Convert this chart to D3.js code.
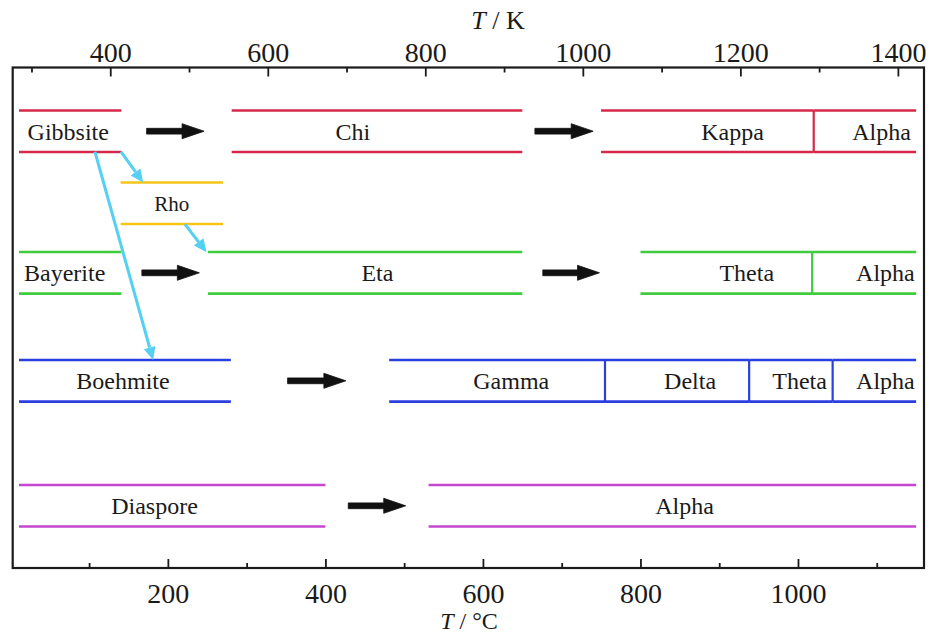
<!DOCTYPE html>
<html>
<head>
<meta charset="utf-8">
<script src="https://cdn.jsdelivr.net/npm/d3@7"></script>
<style>
  body { margin: 0; background: #fff; }
  svg { display: block; }
  svg text { font-family: 'Liberation Serif', 'Times New Roman', 'DejaVu Serif', serif; }
</style>
</head>
<body>
<svg id="chart" width="929" height="635"></svg>
<script>
// ---------- data ----------
const rowNames  = ["Gibbsite", "Rho", "Bayerite", "Boehmite", "Diaspore"];
const rowLevels = [12.73, 27.13, 41.02, 62.6, 87.57];     // vertical position of each row (0-100 scale)
const rowColors = ["#d6284b", "#f5c518", "#3fcc3f", "#2b3fe0", "#c447cf"];

// phase segments: [row, startC, endC, label, labelC]
const phaseRow    = [0, 0, 0, 0, 1, 2, 2, 2, 2, 3, 3, 3, 3, 3, 4, 4];
const phaseStart  = [11, 281, 750, 1020, 140, 11, 251, 800, 1018, 11, 481, 755, 938, 1044, 11, 531];
const phaseEnd    = [141, 650, 1020, 1150, 270, 141, 650, 1018, 1150, 280, 755, 938, 1044, 1150, 400, 1150];
const phaseLabel  = ["Gibbsite", "Chi", "Kappa", "Alpha", "Rho", "Bayerite", "Eta", "Theta", "Alpha",
                     "Boehmite", "Gamma", "Delta", "Theta", "Alpha", "Diaspore", "Alpha"];
const phaseLabelC = [73.5, 435, 917, 1106, 205, 69, 466, 935, 1111, 143, 636, 863, 1002, 1111, 183, 856];

// black transition arrows: [row, fromC, toC]
const arrowRow  = [0, 0, 2, 2, 3, 4];
const arrowFrom = [173, 666, 167, 676, 352, 429];
const arrowTo   = [246, 740, 240, 748, 426, 502];

// cyan cross-row arrows: from (C, level) to (C, level)
const linkFromC = [140.4, 221.6, 107.4];
const linkFromL = [16.83, 31.28, 16.83];
const linkToC   = [168.6, 249.1, 181.3];
const linkToL   = [22.98, 36.92, 58.45];

const bottomTicks = [200, 400, 600, 800, 1000];
const bottomMinor = [100, 300, 500, 700, 900, 1100];
const topTicks    = [400, 600, 800, 1000, 1200, 1400];
const topMinor    = [300, 500, 700, 900, 1100, 1300];

// ---------- layout ----------
const FONT = "'Liberation Serif', 'Times New Roman', serif";
const L = 12.7, R = 924, T = 67.5, B = 568;
const halfBand = 4.15;
const svg = d3.select("#chart");

const x  = d3.scaleLinear().domain([3, 1160]).range([L, R]);
const xK = d3.scaleLinear().domain([3 + 273.15, 1160 + 273.15]).range([L, R]);
const y  = d3.scaleLinear().domain([0, 100]).range([T, B]);

// frame
svg.append("rect").attr("x", L).attr("y", T).attr("width", R - L).attr("height", B - T)
  .attr("fill", "none").attr("stroke", "#1a1a1a").attr("stroke-width", 2.2);

// axes
function styleAxis(g) {
  g.select(".domain").remove();
  g.selectAll("line").attr("stroke", "#1a1a1a").attr("stroke-width", 1.8);
  g.selectAll("text").attr("font-family", FONT).attr("font-size", 28).attr("fill", "#1a1a1a");
}
const gB = svg.append("g").attr("transform", `translate(0,${B})`)
  .call(d3.axisBottom(x).tickValues(bottomTicks).tickSizeInner(-9).tickSizeOuter(0).tickPadding(14).tickFormat(d3.format("d")));
styleAxis(gB);
gB.selectAll("text").attr("y", 0).attr("dy", 0).attr("transform", "translate(0,34.5)");
svg.append("g").attr("transform", `translate(0,${B})`)
  .call(d3.axisBottom(x).tickValues(bottomMinor).tickSizeInner(-5).tickSizeOuter(0).tickFormat(""))
  .call(styleAxis);

const gT = svg.append("g").attr("transform", `translate(0,${T})`)
  .call(d3.axisTop(xK).tickValues(topTicks).tickSizeInner(-9).tickSizeOuter(0).tickPadding(6).tickFormat(d3.format("d")));
styleAxis(gT);
gT.selectAll("text").attr("y", 0).attr("dy", 0).attr("transform", "translate(0,-6)");
svg.append("g").attr("transform", `translate(0,${T})`)
  .call(d3.axisTop(xK).tickValues(topMinor).tickSizeInner(-5).tickSizeOuter(0).tickFormat(""))
  .call(styleAxis);

// axis titles
const tTop = svg.append("text").attr("x", 498).attr("y", 29).attr("text-anchor", "middle")
  .attr("font-family", FONT).attr("font-size", 26).attr("fill", "#1a1a1a");
tTop.append("tspan").attr("font-style", "italic").text("T");
tTop.append("tspan").text(" / K");
const tBot = svg.append("text").attr("x", 469).attr("y", 629).attr("text-anchor", "middle")
  .attr("font-family", FONT).attr("font-size", 24).attr("fill", "#1a1a1a");
tBot.append("tspan").attr("font-style", "italic").text("T");
tBot.append("tspan").text(" / °C");

// phase bands
const phases = phaseRow.map((r, i) => ({
  row: r, s: phaseStart[i], e: phaseEnd[i], label: phaseLabel[i], lc: phaseLabelC[i]
}));
const gP = svg.append("g");
phases.forEach((p, i) => {
  const col = rowColors[p.row], lev = rowLevels[p.row];
  [lev - halfBand, lev + halfBand].forEach(v => {
    gP.append("line").attr("x1", x(p.s)).attr("x2", x(p.e)).attr("y1", y(v)).attr("y2", y(v))
      .attr("stroke", col).attr("stroke-width", 2.6);
  });
  const nxt = phases[i + 1];
  if (nxt && nxt.row === p.row && Math.abs(nxt.s - p.e) < 1) {
    gP.append("line").attr("x1", x(p.e)).attr("x2", x(p.e))
      .attr("y1", y(lev - halfBand)).attr("y2", y(lev + halfBand))
      .attr("stroke", col).attr("stroke-width", 2.2);
  }
  gP.append("text").attr("x", x(p.lc)).attr("y", y(lev)).attr("dy", "0.35em")
    .attr("text-anchor", "middle").attr("font-family", FONT)
    .attr("font-size", p.label === "Rho" ? 21 : 24)
    .attr("fill", "#1a1a1a").text(p.label);
});

// black arrows
const gA = svg.append("g");
arrowRow.forEach((r, i) => {
  const x1 = x(arrowFrom[i]), x2 = x(arrowTo[i]), yy = y(rowLevels[r]);
  const head = 22, hw = 7.5, sw = 2.9;
  gA.append("path")
    .attr("d", `M${x1},${yy - sw} L${x2 - head},${yy - sw} L${x2 - head},${yy - hw} L${x2},${yy} L${x2 - head},${yy + hw} L${x2 - head},${yy + sw} L${x1},${yy + sw} Z`)
    .attr("fill", "#111").attr("stroke", "#111").attr("stroke-width", 0.8).attr("stroke-linejoin", "round");
});

// cyan arrows
const gC = svg.append("g");
linkFromC.forEach((c, i) => {
  const x1 = x(c), y1 = y(linkFromL[i]), x2 = x(linkToC[i]), y2 = y(linkToL[i]);
  const ang = Math.atan2(y2 - y1, x2 - x1);
  const hl = 13, hw = 6;
  const bx = x2 - hl * Math.cos(ang), by = y2 - hl * Math.sin(ang);
  gC.append("line").attr("x1", x1).attr("y1", y1).attr("x2", bx).attr("y2", by)
    .attr("stroke", "#55d0f2").attr("stroke-width", 3);
  const px = -Math.sin(ang) * hw, py = Math.cos(ang) * hw;
  gC.append("path")
    .attr("d", `M${x2},${y2} L${bx + px},${by + py} L${bx - px},${by - py} Z`)
    .attr("fill", "#55d0f2");
});
</script>
</body>
</html>
